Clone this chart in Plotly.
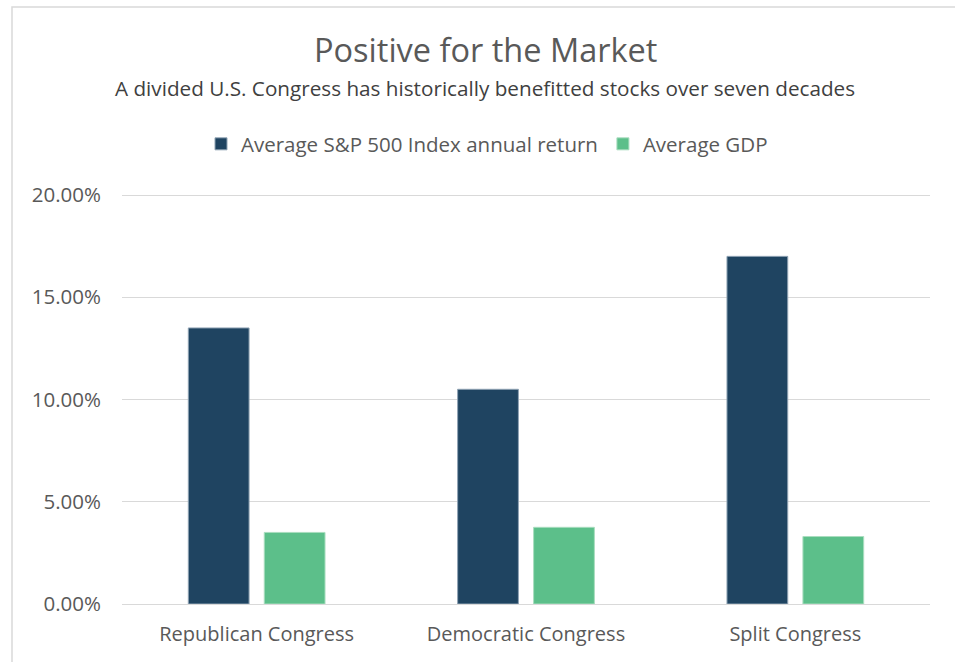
import plotly.graph_objects as go

categories = ["Republican Congress", "Democratic Congress", "Split Congress"]
sp500_return = [13.5, 10.5, 17.0]
avg_gdp = [3.5, 3.75, 3.3]
series_names = ["Average S&P 500 Index annual return", "Average GDP"]
tick_vals = [0, 5, 10, 15, 20]
tick_text = ["0.00%", "5.00%", "10.00%", "15.00%", "20.00%"]

FONT = "Open Sans"
L, R, T, B = 122, 25, 194, 58
W, H = 955, 662
pw = W - L - R
ph = H - T - B

def px_x(px):
    return (px - L) / pw

def px_y(py):
    return (H - B - py) / ph

fig = go.Figure()
fig.add_trace(go.Bar(
    x=categories, y=sp500_return, name=series_names[0],
    marker=dict(color="#1F4461", line=dict(color="#8FA3B4", width=1)),
))
fig.add_trace(go.Bar(
    x=categories, y=avg_gdp, name=series_names[1],
    marker=dict(color="#5CBF8A", line=dict(color="#A9DDBF", width=1)),
))

fig.update_layout(
    width=W, height=H,
    margin=dict(l=L, r=R, t=T, b=B),
    paper_bgcolor="white", plot_bgcolor="white",
    barmode="group", bargap=0.436, bargroupgap=0.2,
    font=dict(family=FONT, color="#595959"),
    showlegend=True,
    legend=dict(orientation="h", x=px_x(487), xanchor="center",
                y=px_y(144), yanchor="middle",
                font=dict(size=20.5, color="#595959", family=FONT),
                itemwidth=30, traceorder="normal"),
    xaxis=dict(showgrid=False, showline=False, ticks="", ticklabelstandoff=16,
               tickfont=dict(size=20, color="#595959", family=FONT)),
    yaxis=dict(range=[0, 20.05], tickvals=tick_vals, ticktext=tick_text,
               showgrid=True, gridcolor="#D9D9D9", gridwidth=1,
               zeroline=True, zerolinecolor="#D9D9D9", zerolinewidth=1,
               showline=False, ticks="", ticklabelstandoff=20,
               tickfont=dict(size=20.5, color="#595959", family=FONT)),
    annotations=[
        dict(text="Positive for the Market", x=px_x(485), y=px_y(50),
             xref="paper", yref="paper", xanchor="center", yanchor="middle",
             showarrow=False, font=dict(size=32.5, color="#595959", family=FONT)),
        dict(text="A divided U.S. Congress has historically benefitted stocks over seven decades",
             x=px_x(485), y=px_y(88), xref="paper", yref="paper",
             xanchor="center", yanchor="middle", showarrow=False,
             font=dict(size=20.7, color="#404040", family=FONT)),
    ],
    shapes=[
        dict(type="rect", xref="paper", yref="paper",
             x0=px_x(12), y0=px_y(700), x1=px_x(1000), y1=px_y(7),
             line=dict(color="#D9D9D9", width=1.5), fillcolor="rgba(0,0,0,0)",
             layer="below"),
    ],
)

fig.write_html("out.html")
